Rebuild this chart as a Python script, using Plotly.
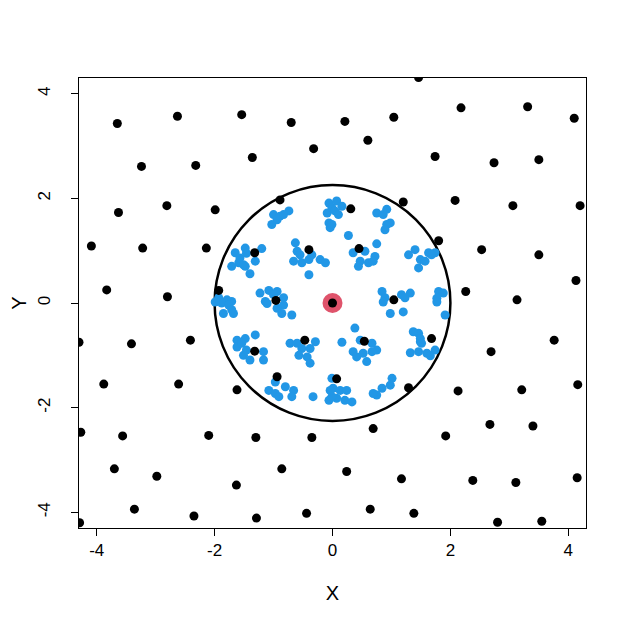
import plotly.graph_objects as go

# background points (black)
black_x = [-3.65, -2.63, -1.54, -3.24, -2.32, -1.36, -3.63, -2.81, -1.99, -0.70,
           0.21, 1.04, -0.32, 0.60, -0.89, 0.31, 1.20, 1.46, 2.18, 3.31,
           4.10, 1.74, 2.74, 3.50, 2.08, 3.06, 4.20, -4.09, -3.22, -2.14,
           -3.83, -2.80, -1.93, -4.30, -3.41, -2.41, 1.80, 2.53, 3.50, 4.13,
           2.26, 3.13, 1.68, 3.76, 2.69, -3.88, -2.61, -1.62, -4.27, -3.56,
           -2.10, -3.70, -2.98, -1.63, -3.36, -2.35, -4.29, -0.94, 0.07, 1.29,
           -1.30, -0.35, 0.69, -0.86, 0.24, 1.17, -1.29, -0.44, 0.64, 1.38,
           2.13, 3.21, 4.16, 2.67, 3.40, 1.92, 2.38, 3.11, 4.15, 2.80,
           3.55, -1.32, -0.40, -0.96, 0.45, 1.04, -1.32, -0.47, 0.54]
black_y = [3.43, 3.57, 3.60, 2.61, 2.63, 2.78, 1.73, 1.86, 1.78, 3.45,
           3.47, 3.55, 2.95, 3.11, 1.97, 1.80, 1.93, 4.31, 3.73, 3.75,
           3.53, 2.80, 2.68, 2.74, 1.96, 1.86, 1.86, 1.09, 1.05, 1.05,
           0.25, 0.12, 0.24, -0.75, -0.78, -0.71, 1.19, 1.02, 0.92, 0.43,
           0.22, 0.06, -0.68, -0.71, -0.93, -1.55, -1.55, -1.66, -2.47, -2.54,
           -2.53, -3.17, -3.31, -3.48, -3.94, -4.07, -4.20, -1.41, -1.45, -1.62,
           -2.57, -2.57, -2.40, -3.17, -3.22, -3.36, -4.11, -4.02, -3.94, -4.02,
           -1.68, -1.66, -1.56, -2.32, -2.35, -2.54, -3.39, -3.43, -3.34, -4.19,
           -4.17, 0.96, 1.02, 0.05, 1.04, 0.06, -0.92, -0.71, -0.73]

# neighbour points inside the circle (blue)
blue_x = [-1.00, -0.89, -0.74, -1.03, -0.94, -0.83,
          -0.06, -0.09, -0.06, -0.04, -0.01, 0.07, 0.16, 0.04, 0.10, -0.01,
          0.75, 0.86, 0.92, 0.92, 0.98, 0.89, 0.27, 0.75,
          -1.65, -1.48, -1.20, -1.31, -1.59, -1.48, -1.40, -1.71, -1.57, -1.46, -1.51,
          -0.63, -0.60, -0.66, -0.52, -0.40, -0.21, -0.12, -0.40, -0.55, -0.35,
          0.35, 0.55, 0.72, 0.47, 0.61, 0.44, 0.69,
          1.29, 1.40, 1.49, 1.63, 1.74, 1.46, 1.57, 1.68,
          1.80, 1.88, 1.77, 1.91, 1.77,
          0.84, 0.89, 1.17, 1.32, 1.23, 0.86, 0.98, 1.20,
          1.46, 1.49,
          1.37, 1.49, 1.51, 1.32, 1.46, 1.60, 1.74, 1.66,
          0.38, 0.16, 0.47, 0.67, 0.75, 0.35, 0.41, 0.58, 0.52, 0.67,
          1.01, 0.98, 0.84, 0.75, 0.69,
          0.01, 0.13, 0.24, 0.07, 0.21, 0.33, -0.01, -0.01, -0.04, -0.06, -0.33,
          -0.97, -1.08, -0.97, -0.91, -0.80, -0.66, -0.69,
          -1.62, -1.48, -1.31, -1.62, -1.51, -1.40, -1.17, -1.17, -1.54, -1.46,
          -0.72, -0.60, -0.52, -0.38, -0.29, -0.57, -0.43, -0.38,
          -1.93, -1.79, -1.71, -1.88, -1.76, -1.85, -1.68, -1.99, -1.71,
          -1.23, -1.08, -0.94, -0.83, -1.14, -1.00, -1.11, -0.83, -0.86, -0.69, -0.94]
blue_y = [1.69, 1.66, 1.76, 1.50, 1.59, 1.69,
          1.91, 1.72, 1.53, 1.44, 1.82, 1.95, 1.85, 1.76, 1.69, 1.50,
          1.72, 1.69, 1.79, 1.50, 1.53, 1.40, 1.29, 1.13,
          0.96, 1.05, 1.04, 0.80, 0.77, 0.70, 0.56, 0.70, 0.86, 0.95, 0.73,
          1.15, 0.99, 0.80, 0.77, 0.83, 0.83, 0.77, 0.54, 0.92, 0.92,
          0.96, 0.99, 0.89, 0.80, 0.77, 0.70, 0.80,
          0.92, 1.02, 0.83, 0.96, 0.96, 0.67, 0.80, 0.92,
          0.22, 0.19, 0.09, -0.23, 0.02,
          0.22, 0.10, 0.16, 0.19, 0.10, 0.02, -0.20, -0.17,
          -0.58, -0.74,
          -0.55, -0.68, -0.77, -0.95, -0.93, -0.96, -0.90, -1.01,
          -0.48, -0.75, -0.71, -0.77, -0.90, -0.93, -1.03, -1.12, -0.96, -0.93,
          -1.44, -1.57, -1.63, -1.76, -1.73,
          -1.63, -1.67, -1.67, -1.82, -1.86, -1.89, -1.79, -1.44, -1.67, -1.86, -1.79,
          -1.51, -1.67, -1.73, -1.79, -1.60, -1.67, -1.79,
          -0.71, -0.68, -0.61, -0.84, -1.00, -1.09, -0.93, -1.09, -0.77, -0.90,
          -0.77, -0.77, -0.87, -0.87, -0.74, -1.00, -1.03, -1.15,
          0.10, 0.06, 0.03, 0.00, -0.04, -0.20, -0.20, 0.02, -0.13,
          0.19, 0.24, 0.22, 0.10, 0.03, 0.16, -0.01, -0.04, -0.20, -0.23, -0.10]

center_x = [0]
center_y = [0]
radius = 2
axis_lim = [-4.3, 4.3]
tick_vals = [-4, -2, 0, 2, 4]
tick_text = ["-4", "-2", "0", "2", "4"]

# page body has an 8px margin, so the figure is sized/placed to compensate
W, H = 619, 618
ml, mr, mt, mb = 71, 41, 70, 98
# R draws the circle round on screen, so stretch the y radius by the pixel ratio
ry = radius * (W - ml - mr) / (H - mt - mb)

fig = go.Figure()
fig.add_trace(go.Scatter(x=blue_x, y=blue_y, mode="markers",
                         marker=dict(size=9, color="#2297E6")))
fig.add_trace(go.Scatter(x=black_x, y=black_y, mode="markers",
                         marker=dict(size=9, color="black")))
fig.add_trace(go.Scatter(x=center_x, y=center_y, mode="markers",
                         marker=dict(size=20, color="#DF536B")))
fig.add_trace(go.Scatter(x=center_x, y=center_y, mode="markers",
                         marker=dict(size=9, color="black")))

fig.add_shape(type="circle", xref="x", yref="y",
              x0=-radius, x1=radius, y0=-ry, y1=ry,
              line=dict(color="black", width=2.5), layer="below")

axis_style = dict(range=axis_lim, tickvals=tick_vals, ticktext=tick_text,
                  showgrid=False, zeroline=False, showline=True, mirror=True,
                  linecolor="black", linewidth=1, ticks="outside", ticklen=7,
                  tickcolor="black", tickfont=dict(size=17, color="black"),
                  automargin=False)

fig.update_layout(
    width=W, height=H,
    margin=dict(l=ml, r=mr, t=mt, b=mb),
    paper_bgcolor="white", plot_bgcolor="white",
    showlegend=False,
    font=dict(family="Liberation Sans, Arial, sans-serif", color="black"),
    xaxis=dict(axis_style, title=dict(text="X", font=dict(size=20), standoff=26),
               ticklabelstandoff=0),
    yaxis=dict(axis_style, title=dict(text="Y", font=dict(size=20), standoff=14),
               tickangle=-90, ticklabelstandoff=14),
)

fig.write_html("out.html")
